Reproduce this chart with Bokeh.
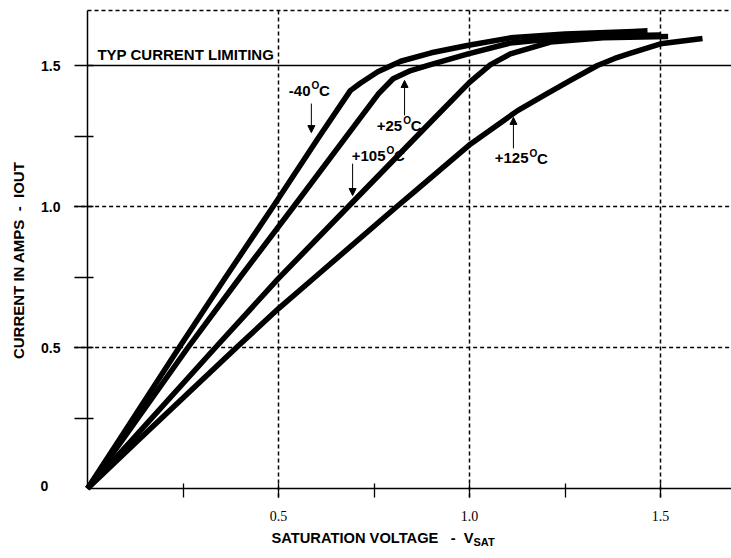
import math
from bokeh.plotting import figure
from bokeh.models import (Range1d, FixedTicker, Label, Arrow, NormalHead, LinearAxis)
from bokeh.embed import file_html
from bokeh.resources import INLINE

# ---------------- data ----------------
v_m40 = [0, 0.082, 0.24, 0.362, 0.486, 0.605, 0.688, 0.715, 0.76, 0.80, 0.82, 0.90, 0.994, 1.107, 1.25, 1.43, 1.466]
i_m40 = [0, 0.17, 0.5, 0.75, 1.0, 1.245, 1.411, 1.438, 1.478, 1.503, 1.515, 1.545, 1.571, 1.598, 1.612, 1.621, 1.623]

v_p25 = [0, 0.09, 0.263, 0.40, 0.54, 0.695, 0.762, 0.80, 0.846, 0.898, 0.994, 1.107, 1.25, 1.43, 1.50]
i_p25 = [0, 0.17, 0.5, 0.75, 1.0, 1.28, 1.40, 1.453, 1.482, 1.503, 1.540, 1.580, 1.598, 1.606, 1.608]

v_p105 = [0, 0.115, 0.335, 0.5, 0.683, 0.885, 1.0, 1.055, 1.107, 1.212, 1.35, 1.52]
i_p105 = [0, 0.17, 0.5, 0.745, 1.0, 1.281, 1.440, 1.503, 1.541, 1.583, 1.598, 1.603]

v_p125 = [0, 0.132, 0.39, 0.5, 0.596, 0.81, 0.86, 1.003, 1.126, 1.203, 1.27, 1.335, 1.38, 1.42, 1.5, 1.61]
i_p125 = [0, 0.17, 0.5, 0.638, 0.75, 1.0, 1.057, 1.222, 1.34, 1.40, 1.452, 1.500, 1.525, 1.543, 1.577, 1.596]

curve_names = ["-40", "+25", "+105", "+125"]

x_ticks = [0.25, 0.5, 0.75, 1.0, 1.25, 1.5]
x_tick_labels = ["", "0.5", "", "1.0", "", "1.5"]
y_ticks = [0, 0.25, 0.5, 0.75, 1.0, 1.25, 1.5]
y_tick_labels = ["0", "", "0.5", "", "1.0", "", "1.5"]
x_grid = [0.5, 1.0, 1.5]
y_grid = [0.5, 1.0]
limit_current = 1.5
limit_text = "TYP CURRENT LIMITING"
NB = "\u00a0"
y_title = "CURRENT IN AMPS" + NB * 2 + "-" + NB * 2 + "IOUT"
x_title = "SATURATION VOLTAGE" + NB * 3 + "-" + NB * 2 + "V"
x_title_sub = "SAT"

# ---------------- figure ----------------
W, H = 731, 558
X0_PX, Y0_PX = 87, 488          # where the origin sits on the canvas
SX, SY = 382.0, 282.0           # pixels per volt / per amp
x_lo, x_hi = -X0_PX / SX, (W - X0_PX) / SX
y_lo, y_hi = -(H - Y0_PX) / SY, Y0_PX / SY
TOP = 1.695                      # dashed top border of the chart box
BL = 5                           # baseline correction (px, upward)

p = figure(width=W, height=H,
           x_range=Range1d(x_lo, x_hi), y_range=Range1d(y_lo, y_hi),
           output_backend="svg", toolbar_location=None,
           x_axis_location=None, y_axis_location=None,
           min_border=0, min_border_left=0, min_border_right=0,
           min_border_top=0, min_border_bottom=0)
p.outline_line_color = None
p.background_fill_color = "white"
p.border_fill_color = "white"
p.xgrid.visible = False
p.ygrid.visible = False

SANS = "Liberation Sans"
SERIF = "Liberation Serif"

# ---------------- grid / border lines ----------------
p.segment(x0=x_grid, y0=[-0.032] * len(x_grid), x1=x_grid, y1=[TOP] * len(x_grid),
          line_color="black", line_width=1.5, line_dash="4 3")
p.segment(x0=[-0.035] * len(y_grid), y0=y_grid, x1=[x_hi] * len(y_grid), y1=y_grid,
          line_color="black", line_width=1.5, line_dash="4 3")
p.segment(x0=[0], y0=[TOP], x1=[x_hi], y1=[TOP],
          line_color="black", line_width=1.5, line_dash="4 3")
p.segment(x0=[0], y0=[limit_current], x1=[x_hi], y1=[limit_current],
          line_color="black", line_width=1.5)

# ---------------- axes ----------------
xa = LinearAxis(fixed_location=0, bounds=(0, x_hi))
xa.ticker = FixedTicker(ticks=x_ticks)
xa.major_label_overrides = {t: l for t, l in zip(x_ticks, x_tick_labels)}
xa.axis_line_width = 1.5
xa.axis_line_color = "black"
xa.major_tick_line_width = 1.3
xa.major_tick_line_color = "black"
xa.major_tick_out = 9
xa.major_tick_in = 5
xa.minor_tick_line_color = None
xa.major_label_text_font = SERIF
xa.major_label_text_font_size = "14px"
xa.major_label_text_color = "black"
xa.major_label_standoff = 13
p.add_layout(xa, "below")

ya = LinearAxis(fixed_location=0, bounds=(0, TOP))
ya.ticker = FixedTicker(ticks=y_ticks[1:])
ya.major_label_overrides = {t: l for t, l in zip(y_ticks[1:], y_tick_labels[1:])}
ya.axis_line_width = 1.5
ya.axis_line_color = "black"
ya.major_tick_line_width = 1.3
ya.major_tick_line_color = "black"
ya.major_tick_out = 13
ya.major_tick_in = 6
ya.minor_tick_line_color = None
ya.major_label_text_font = SANS
ya.major_label_text_font_style = "bold"
ya.major_label_text_font_size = "14px"
ya.major_label_text_color = "black"
ya.major_label_standoff = 14
p.add_layout(ya, "left")

# "0" label of the current axis (no tick mark at the origin in the original)
p.add_layout(Label(x=0, y=y_ticks[0], x_offset=-47, y_offset=3, text=y_tick_labels[0],
                   text_font=SANS, text_font_style="bold", text_font_size="14px",
                   text_align="left", text_baseline="middle", text_color="black"))

# ---------------- curves ----------------
for vs, cs in ((v_m40, i_m40), (v_p25, i_p25), (v_p105, i_p105), (v_p125, i_p125)):
    p.line(vs, cs, line_width=5.5, line_color="black", line_join="round")

# ---------------- annotations ----------------
def text_label(x, y, text, size, align="left", dx=0, dy=0):
    p.add_layout(Label(x=x, y=y, x_offset=dx, y_offset=dy + BL, text=text,
                       text_font=SANS, text_font_style="bold", text_font_size=size,
                       text_align=align, text_baseline="alphabetic",
                       text_color="black"))

text_label(0.026, 1.520, limit_text, "15px")

# temperature labels: (right edge of number x, baseline y)
label_pos = [(0.5838, 1.3936), (0.8238, 1.2695), (0.7801, 1.1631), (1.1545, 1.1525)]
for name, (lx, ly) in zip(curve_names, label_pos):
    text_label(lx, ly, name, "15px", align="right")
    text_label(lx, ly, "O", "10px", dx=1, dy=5)
    text_label(lx, ly, "C", "15px", dx=8.5)

# arrows: (x, y_start, y_end)
arrow_pos = [(0.586, 1.365, 1.262), (0.830, 1.323, 1.447),
             (0.694, 1.152, 1.039), (1.115, 1.206, 1.316)]
for ax, y0, y1 in arrow_pos:
    p.add_layout(Arrow(x_start=ax, y_start=y0, x_end=ax, y_end=y1, line_width=1,
                       line_color="black",
                       end=NormalHead(size=7, line_color="black", fill_color="black",
                                      line_width=1)))

# axis titles
p.add_layout(Label(x=-0.1806, y=0.809, text=y_title,
                   angle=math.pi / 2, text_font=SANS, text_font_style="bold",
                   text_font_size="15px", text_align="center", text_baseline="middle",
                   text_color="black"))
text_label(1.0105, -0.195, x_title, "14.7px", align="right")
text_label(1.0105, -0.2057, x_title_sub, "11px")

open("out.html", "w").write(file_html(p, INLINE))
